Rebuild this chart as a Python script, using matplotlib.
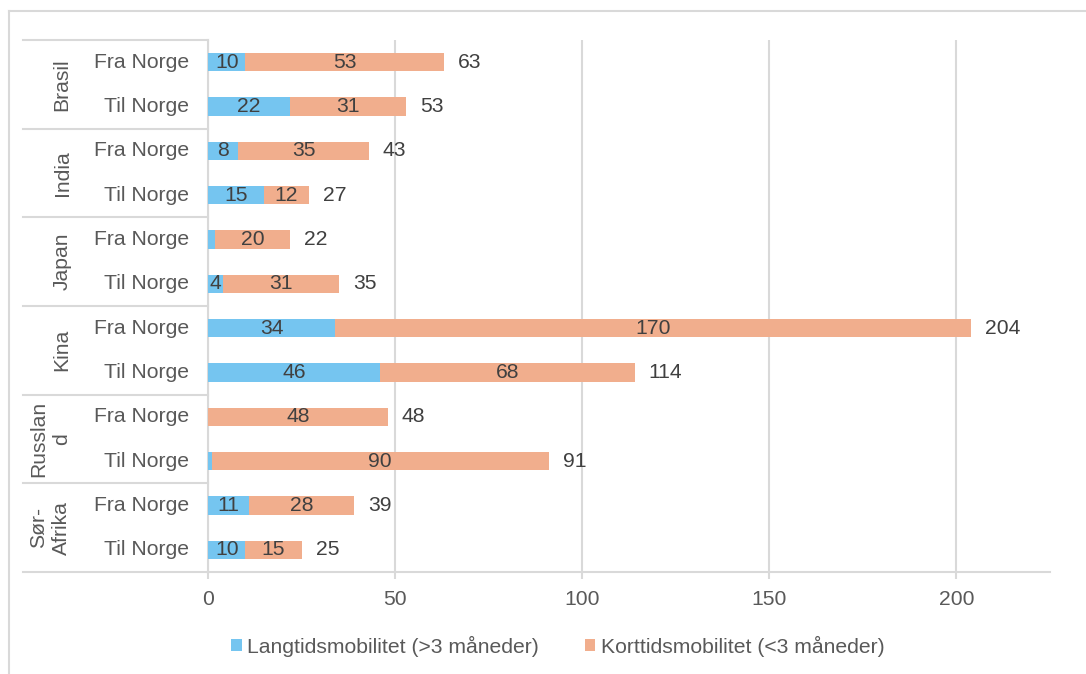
import matplotlib
matplotlib.use("Agg")
import matplotlib.pyplot as plt
from matplotlib.lines import Line2D
import numpy as np

plt.rcParams['font.family'] = ['Liberation Sans', 'DejaVu Sans']

countries = ["Brasil", "India", "Japan", "Kina", "Russlan\nd", "Sør-\nAfrika"]
directions = ["Fra Norge", "Til Norge"]
langtid = [10, 22, 8, 15, 2, 4, 34, 46, 0, 1, 11, 10]
korttid = [53, 31, 35, 12, 20, 31, 170, 68, 48, 90, 28, 15]
totals = [63, 53, 43, 27, 22, 35, 204, 114, 48, 91, 39, 25]
xticks = [0, 50, 100, 150, 200]
series_names = ["Langtidsmobilitet (>3 måneder)", "Korttidsmobilitet (<3 måneder)"]

BLUE = "#75C5F0"
ORANGE = "#F1AE8D"
GRID = "#D9D9D9"
TXT = "#404040"
TICK = "#595959"
FS = 15.2

W, H = 1086, 674
fig = plt.figure(figsize=(W / 100, H / 100), dpi=100)
ax = fig.add_axes([208 / W, 1 - 572 / H, (1050 - 208) / W, (572 - 40) / H])

n = len(langtid)
y = np.arange(n)
bh = 0.41
b1 = ax.barh(y, langtid, height=bh, color=BLUE, label=series_names[0], zorder=3)
b2 = ax.barh(y, korttid, left=langtid, height=bh, color=ORANGE, label=series_names[1], zorder=3)

for i in range(n):
    if langtid[i] >= 4:
        ax.text(langtid[i] / 2, y[i], str(langtid[i]), ha="center", va="center",
                fontsize=FS, color=TXT, zorder=4)
    if korttid[i] >= 4:
        ax.text(langtid[i] + korttid[i] / 2, y[i], str(korttid[i]), ha="center", va="center",
                fontsize=FS, color=TXT, zorder=4)
    ax.annotate(str(totals[i]), (langtid[i] + korttid[i], y[i]), xytext=(14, 0),
                textcoords="offset pixels", ha="left", va="center",
                fontsize=FS, color=TXT)

ax.set_xlim(0, 225)
ax.set_ylim(n - 0.5, -0.5)
ax.set_xticks(xticks)
ax.set_xticklabels([str(v) for v in xticks], fontsize=FS, color=TICK)
ax.tick_params(axis="x", length=5, width=1.5, color=GRID, pad=8)
ax.set_yticks([])
ax.grid(axis="x", color=GRID, linewidth=1.5, zorder=0)
for s in ["top", "right"]:
    ax.spines[s].set_visible(False)
ax.spines["left"].set_color(GRID)
ax.spines["left"].set_linewidth(1.5)
ax.spines["bottom"].set_color(GRID)
ax.spines["bottom"].set_linewidth(1.5)

# inner category labels
for i in range(n):
    ax.annotate(directions[i % 2], (0, y[i]), xycoords=("axes fraction", "data"),
                xytext=(-19, 0), textcoords="offset pixels",
                ha="right", va="center", fontsize=FS, color=TICK)

# country labels & separators
for g, c in enumerate(countries):
    yc = 2 * g + 0.5
    xc = 50 if "\n" in c else 62
    ax.annotate(c, (0, yc), xycoords=("axes fraction", "data"),
                xytext=(xc - 208, 0), textcoords="offset pixels",
                ha="center", va="center", rotation=90, fontsize=FS, color=TICK,
                linespacing=1.3, multialignment="center")
for k in range(len(countries) + 1):
    yy = -0.5 + 2 * k
    ax.add_artist(Line2D([(23 - 208) / (1050 - 208), 0], [yy, yy], color=GRID, linewidth=1.5,
                         transform=ax.get_yaxis_transform(), clip_on=False))

# figure border
fig.add_artist(Line2D([9 / W, 1.0], [1 - 11 / H, 1 - 11 / H], color=GRID, linewidth=1.5,
                      transform=fig.transFigure))
fig.add_artist(Line2D([9 / W, 9 / W], [1 - 11 / H, 0], color=GRID, linewidth=1.5,
                      transform=fig.transFigure))

leg = fig.legend(handles=[b1, b2], loc="center", bbox_to_anchor=(0.5134, 1 - 646 / H), ncol=2,
                 frameon=False, fontsize=FS, handlelength=0.52, handleheight=0.52,
                 handletextpad=0.25, columnspacing=2.17, labelcolor=TICK)

fig.savefig("out.png", dpi=100)
